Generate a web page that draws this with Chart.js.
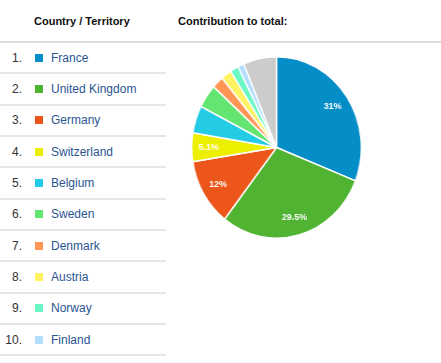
<!DOCTYPE html>
<html lang="en">
<head>
  <meta charset="UTF-8">
  <title>Country / Territory</title>
  <script src="https://cdn.jsdelivr.net/npm/chart.js@4.4.1/dist/chart.umd.min.js"></script>
  <style>
    body {
      margin: 0;
      padding: 0;
      width: 441px;
      height: 363px;
      overflow: hidden;
      background: #fff;
      font-family: Arial, "Liberation Sans", sans-serif;
    }
    .head {
      position: absolute;
      top: 15px;
      font-size: 11px;
      font-weight: bold;
      color: #111;
    }
    .headLine {
      position: absolute;
      left: 0;
      top: 41px;
      width: 441px;
      height: 2px;
      background: #dedede;
    }
    .row {
      position: absolute;
      left: 0;
      width: 166px;
      border-bottom: 2px solid #e6e6e6;
      box-sizing: border-box;
    }
    .num {
      position: absolute;
      right: 144px;
      font-size: 12px;
      color: #333;
    }
    .sq {
      position: absolute;
      left: 35px;
      width: 8px;
      height: 8px;
    }
    .name {
      position: absolute;
      left: 51px;
      font-size: 12px;
      color: #2a5491;
      white-space: nowrap;
    }
  </style>
</head>
<body>

  <div class="head" style="left: 34px;">Country / Territory</div>
  <div class="head" style="left: 178px;">Contribution to total:</div>
  <div class="headLine"></div>
  <div id="rows"></div>

  <!-- pie is drawn square, then squeezed a bit sideways like the screenshot -->
  <div style="position: absolute; left: 185px; top: 56px; width: 183px; height: 183px; transform: scaleX(0.935); transform-origin: 50% 50%;">
    <canvas id="pie"></canvas>
  </div>

  <script>
    const countries = ["France", "United Kingdom", "Germany", "Switzerland", "Belgium",
                       "Sweden", "Denmark", "Austria", "Norway", "Finland"];
    const shares = [31, 29.5, 12, 5.1, 4.9, 4.2, 2.2, 2.0, 1.6, 1.2];
    const otherShare = 6.3;
    const colors = ["#058DC7", "#50B432", "#ED561B", "#EDEF00", "#24CBE5",
                    "#64E572", "#FF9655", "#FFF263", "#6AF9C4", "#B2DEFF"];
    const otherColor = "#CCCCCC";

    // left table
    const rowsBox = document.getElementById("rows");
    const rowTop = 43, rowH = 31.35;
    countries.forEach((c, i) => {
      const row = document.createElement("div");
      row.className = "row";
      row.style.top = (rowTop + i * rowH) + "px";
      row.style.height = rowH + "px";
      const mid = rowH / 2;
      row.innerHTML =
        '<span class="num" style="top:' + (mid - 8) + 'px">' + (i + 1) + '.</span>' +
        '<span class="sq" style="top:' + (mid - 5) + 'px;background:' + colors[i] + '"></span>' +
        '<span class="name" style="top:' + (mid - 8) + 'px">' + c + '</span>';
      rowsBox.appendChild(row);
    });

    // percentage labels on the big slices
    const sliceLabels = {
      id: "sliceLabels",
      afterDatasetsDraw(chart) {
        const ctx = chart.ctx;
        const arcs = chart.getDatasetMeta(0).data;
        const vals = chart.data.datasets[0].data;
        ctx.save();
        ctx.fillStyle = "#fff";
        ctx.font = "bold 9.5px Arial, 'Liberation Sans', sans-serif";
        ctx.textAlign = "center";
        ctx.textBaseline = "middle";
        arcs.forEach((arc, i) => {
          if (i >= countries.length || vals[i] < 5) return;
          const p = arc.getProps(["x", "y", "startAngle", "endAngle", "outerRadius"], true);
          const a = (p.startAngle + p.endAngle) / 2;
          const r = p.outerRadius * 0.8;
          ctx.fillText(vals[i] + "%", p.x + Math.cos(a) * r, p.y + Math.sin(a) * r);
        });
        ctx.restore();
      }
    };

    new Chart(document.getElementById("pie").getContext("2d"), {
      type: "pie",
      data: {
        labels: countries.concat(["Other"]),
        datasets: [{
          data: shares.concat([otherShare]),
          backgroundColor: colors.concat([otherColor]),
          borderColor: "#fff",
          borderWidth: 1.5
        }]
      },
      options: {
        responsive: true,
        maintainAspectRatio: false,
        animation: false,
        plugins: { legend: { display: false }, tooltip: { enabled: false } }
      },
      plugins: [sliceLabels]
    });
  </script>
</body>
</html>
